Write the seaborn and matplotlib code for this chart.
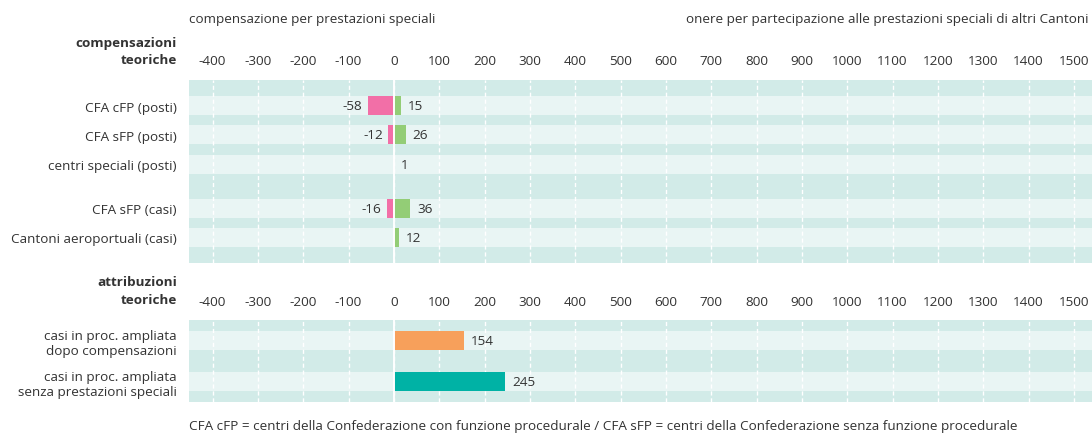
import numpy as np
import pandas as pd
import matplotlib
matplotlib.use("Agg")
import matplotlib.pyplot as plt
import seaborn as sns

# ---------------- data ----------------
top_categories = ["CFA cFP (posti)", "CFA sFP (posti)", "centri speciali (posti)",
                  "CFA sFP (casi)", "Cantoni aeroportuali (casi)"]
compensazione = [-58, -12, np.nan, -16, np.nan]   # compensazione per prestazioni speciali
onere = [15, 26, 1, 36, 12]                       # onere per partecipazione

bottom_categories = ["casi in proc. ampliata\ndopo compensazioni",
                     "casi in proc. ampliata\nsenza prestazioni speciali"]
attribuzioni = [154, 245]

tick_values = list(range(-400, 1501, 100))
tick_labels = [str(v) for v in tick_values]

header_left = "compensazione per prestazioni speciali"
header_right = "onere per partecipazione alle prestazioni speciali di altri Cantoni"
group_top = ["compensazioni", "teoriche"]
group_bottom = ["attribuzioni", "teoriche"]
footnote = ("CFA cFP = centri della Confederazione con funzione procedurale / "
            "CFA sFP = centri della Confederazione senza funzione procedurale")

# ---------------- style ----------------
sns.set_theme(style="white")
plt.rcParams["font.family"] = ["Open Sans", "DejaVu Sans"]
plt.rcParams["axes.unicode_minus"] = False

TXT = "#333333"
DARK = "#d2ebe8"
LIGHT = "#e9f5f4"
PINK = "#f26fa7"
GREEN = "#93cd76"
ORANGE = "#f7a05b"
TEAL = "#00b2a5"
FS = 9.7

W, H = 1092, 435
fig = plt.figure(figsize=(W / 100, H / 100), dpi=100)
ax1 = fig.add_axes([189 / W, 1 - 264 / H, (W - 189) / W, 183 / H])
ax2 = fig.add_axes([189 / W, 1 - 403 / H, (W - 189) / W, 82 / H])

XLIM = (-452, 1540)

# positions: gap of half a row after the third category
top_pos = [0, 1, 2, 3.5, 4.5]
bar_h_top = 0.64
bar_h_bot = 0.47
bot_pos = [0, 1]

df_top = pd.DataFrame({
    "pos": top_pos * 2,
    "value": list(compensazione) + list(onere),
    "serie": ["comp"] * len(top_pos) + ["onere"] * len(top_pos),
})
df_bot = pd.DataFrame({"pos": bot_pos, "value": attribuzioni,
                       "cat": ["dopo", "senza"]})


def style_axis(ax, positions, h, labels, ylim):
    ax.set_facecolor(DARK)
    for p in positions:
        ax.axhspan(p - h / 2, p + h / 2, color=LIGHT, zorder=0.2, lw=0)
    ax.set_xlim(*XLIM)
    ax.set_ylim(*ylim)
    ax.set_xticks(tick_values)
    ax.set_xticklabels(tick_labels, fontsize=FS, color=TXT)
    ax.xaxis.tick_top()
    ax.set_yticks(positions)
    ax.set_yticklabels(labels, fontsize=FS, color=TXT)
    ax.tick_params(axis="x", length=0, pad=9, top=True, bottom=False,
                   labeltop=True, labelbottom=False)
    ax.tick_params(axis="y", length=0, pad=9)
    ax.set_xlabel("")
    ax.set_ylabel("")
    ax.set_axisbelow(True)
    ax.grid(axis="x", color="white", linestyle=(0, (3, 2)), linewidth=1)
    ax.grid(axis="y", visible=False)
    for s in ax.spines.values():
        s.set_visible(False)
    ax.axvline(0, color="white", lw=1.4, zorder=3)


sns.barplot(data=df_top, x="value", y="pos", hue="serie", orient="y",
            native_scale=True, dodge=False, width=bar_h_top, errorbar=None,
            palette={"comp": PINK, "onere": GREEN}, saturation=1,
            linewidth=0, legend=False, ax=ax1)
style_axis(ax1, top_pos, bar_h_top, top_categories, (5.37, -0.87))

sns.barplot(data=df_bot, x="value", y="pos", hue="cat", orient="y",
            native_scale=True, dodge=False, width=bar_h_bot, errorbar=None,
            palette={"dopo": ORANGE, "senza": TEAL}, saturation=1,
            linewidth=0, legend=False, ax=ax2)
style_axis(ax2, bot_pos, bar_h_bot, bottom_categories, (1.5, -0.5))

# value labels
for p, v in zip(top_pos, compensazione):
    if not np.isnan(v):
        ax1.annotate(str(int(v)), (v, p), xytext=(-4, 0), textcoords="offset points",
                     ha="right", va="center", fontsize=FS, color=TXT)
for p, v in zip(top_pos, onere):
    ax1.annotate(str(int(v)), (v, p), xytext=(5, 0), textcoords="offset points",
                 ha="left", va="center", fontsize=FS, color=TXT)
for p, v in zip(bot_pos, attribuzioni):
    ax2.annotate(str(int(v)), (v, p), xytext=(5, 0), textcoords="offset points",
                 ha="left", va="center", fontsize=FS, color=TXT)

# group titles
fig.text(177 / W, 1 - 43 / H, group_top[0], ha="right", va="center",
         fontsize=FS, weight="bold", color=TXT)
fig.text(177 / W, 1 - 61 / H, group_top[1], ha="right", va="center",
         fontsize=FS, weight="bold", color=TXT)
fig.text(177 / W, 1 - 283 / H, group_bottom[0], ha="right", va="center",
         fontsize=FS, weight="bold", color=TXT)
fig.text(177 / W, 1 - 301 / H, group_bottom[1], ha="right", va="center",
         fontsize=FS, weight="bold", color=TXT)

# headers and footnote
fig.text(189 / W, 1 - 19 / H, header_left, ha="left", va="center",
         fontsize=FS, color=TXT)
fig.text(1089 / W, 1 - 19 / H, header_right, ha="right", va="center",
         fontsize=FS, color=TXT)
fig.text(189 / W, 1 - 427 / H, footnote, ha="left", va="center",
         fontsize=FS, color=TXT)

fig.savefig("out.png", dpi=100)
